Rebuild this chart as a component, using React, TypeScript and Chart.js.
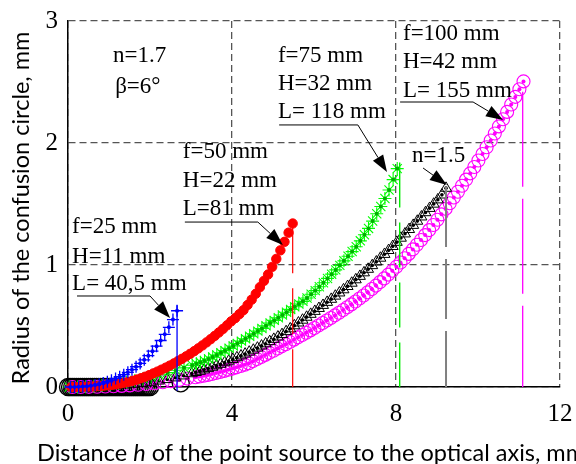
import React, { useEffect, useRef } from "react";
import { Chart, registerables } from "chart.js";
Chart.register(...registerables);

// ---- data ----
const blueX = [0.06,0.16,0.26,0.36,0.46,0.56,0.66,0.76,0.86,0.96,1.06,1.16,1.26,1.36,1.46,1.56,1.66,1.76,1.86,1.96,2.06,2.16,2.26,2.36,2.46,2.56,2.66];
const blueY = [0.000,0.001,0.002,0.004,0.007,0.011,0.016,0.023,0.032,0.043,0.056,0.070,0.085,0.101,0.120,0.142,0.166,0.193,0.223,0.257,0.294,0.335,0.381,0.432,0.489,0.553,0.625];

const redX = [0.08,0.18,0.28,0.38,0.48,0.58,0.68,0.78,0.88,0.98,1.08,1.18,1.28,1.38,1.48,1.58,1.68,1.78,1.88,1.98,2.08,2.18,2.28,2.38,2.48,2.58,2.68,2.78,2.88,2.98,3.08,3.18,3.28,3.38,3.48,3.58,3.68,3.78,3.88,3.98,4.08,4.18,4.28,4.38,4.48,4.58,4.68,4.78,4.88,4.98,5.08,5.18,5.28,5.38,5.48];
const redY = [0.000,0.000,0.001,0.002,0.003,0.004,0.006,0.008,0.011,0.014,0.018,0.023,0.029,0.036,0.043,0.051,0.061,0.072,0.084,0.097,0.111,0.126,0.142,0.158,0.175,0.193,0.212,0.231,0.251,0.272,0.294,0.317,0.341,0.366,0.392,0.419,0.447,0.476,0.506,0.538,0.565,0.597,0.630,0.672,0.716,0.764,0.818,0.870,0.922,0.985,1.050,1.120,1.190,1.265,1.340];

const greenX = [0.03,0.23,0.43,0.63,0.83,1.03,1.23,1.43,1.63,1.83,2.03,2.23,2.43,2.63,2.83,3.03,3.13,3.23,3.33,3.43,3.53,3.63,3.73,3.83,3.93,4.03,4.13,4.23,4.33,4.43,4.53,4.63,4.73,4.83,4.93,5.03,5.13,5.23,5.33,5.43,5.53,5.63,5.73,5.83,5.93,6.03,6.13,6.23,6.33,6.43,6.53,6.63,6.73,6.83,6.93,7.03,7.13,7.23,7.33,7.43,7.53,7.63,7.73,7.83,7.93,8.03];
const greenY = [0.000,0.001,0.003,0.006,0.012,0.020,0.030,0.041,0.054,0.067,0.082,0.100,0.118,0.137,0.157,0.178,0.190,0.202,0.215,0.230,0.245,0.262,0.280,0.298,0.317,0.336,0.356,0.376,0.396,0.416,0.436,0.458,0.480,0.502,0.524,0.546,0.568,0.590,0.613,0.636,0.658,0.680,0.702,0.730,0.760,0.790,0.822,0.855,0.890,0.925,0.960,0.997,1.034,1.072,1.110,1.150,1.198,1.248,1.300,1.360,1.420,1.480,1.545,1.615,1.700,1.790];

const blackX = [0.02,0.22,0.42,0.62,0.82,1.02,1.22,1.42,1.62,1.82,2.02,2.22,2.42,2.62,2.82,3.02,3.12,3.22,3.32,3.42,3.52,3.62,3.72,3.82,3.92,4.02,4.12,4.22,4.32,4.42,4.52,4.62,4.72,4.82,4.92,5.02,5.12,5.22,5.32,5.42,5.52,5.62,5.72,5.82,5.92,6.02,6.12,6.22,6.32,6.42,6.52,6.62,6.72,6.82,6.92,7.02,7.12,7.22,7.32,7.42,7.52,7.62,7.72,7.82,7.92,8.02,8.12,8.22,8.32,8.42,8.52,8.62,8.72,8.82,8.92,9.02,9.12,9.22];
const blackY = [0.000,0.000,0.001,0.003,0.005,0.008,0.012,0.017,0.024,0.031,0.040,0.050,0.062,0.076,0.092,0.110,0.120,0.130,0.141,0.152,0.163,0.175,0.187,0.200,0.213,0.227,0.241,0.256,0.271,0.287,0.303,0.320,0.337,0.355,0.373,0.392,0.411,0.431,0.455,0.478,0.503,0.526,0.549,0.573,0.597,0.621,0.645,0.670,0.695,0.720,0.746,0.772,0.798,0.825,0.852,0.880,0.908,0.937,0.966,0.996,1.026,1.057,1.088,1.120,1.153,1.187,1.221,1.256,1.292,1.326,1.360,1.395,1.430,1.465,1.500,1.535,1.575,1.630];

const magentaX = [0.11,0.31,0.51,0.71,0.91,1.11,1.31,1.51,1.71,1.91,2.11,2.31,2.51,2.71,2.91,3.11,3.21,3.31,3.41,3.51,3.61,3.71,3.81,3.91,4.01,4.11,4.21,4.31,4.41,4.51,4.61,4.71,4.81,4.91,5.01,5.11,5.21,5.31,5.41,5.51,5.61,5.71,5.81,5.91,6.01,6.11,6.21,6.31,6.41,6.51,6.61,6.71,6.81,6.91,7.01,7.11,7.21,7.31,7.41,7.51,7.61,7.71,7.81,7.91,8.01,8.11,8.21,8.31,8.41,8.51,8.61,8.71,8.81,8.91,9.01,9.11,9.21,9.31,9.41,9.51,9.61,9.71,9.81,9.91,10.01,10.11,10.21,10.31,10.41,10.51,10.61,10.71,10.81,10.91,11.01,11.11];
const magentaY = [0.000,0.000,0.001,0.002,0.004,0.006,0.009,0.013,0.018,0.024,0.031,0.039,0.048,0.058,0.069,0.080,0.086,0.092,0.099,0.107,0.115,0.123,0.132,0.141,0.151,0.161,0.172,0.183,0.195,0.212,0.229,0.246,0.263,0.280,0.297,0.315,0.333,0.351,0.369,0.388,0.407,0.426,0.445,0.464,0.484,0.504,0.524,0.545,0.566,0.587,0.609,0.631,0.654,0.677,0.701,0.725,0.750,0.776,0.803,0.831,0.860,0.890,0.921,0.953,0.986,1.020,1.055,1.091,1.128,1.166,1.205,1.245,1.286,1.328,1.371,1.415,1.460,1.506,1.553,1.601,1.650,1.700,1.751,1.803,1.856,1.910,1.965,2.021,2.078,2.136,2.195,2.255,2.316,2.378,2.441,2.505];

const bandX = [0.0,0.05,0.1,0.15,0.2,0.25,0.3,0.35,0.4,0.45,0.5,0.55,0.6,0.65,0.7,0.75,0.8,0.85,0.9,0.95,1.0,1.05,1.1,1.15,1.2,1.25,1.3,1.35,1.4,1.45,1.5,1.55,1.6,1.65,1.7,1.75,1.8,1.85,1.9,1.95,2.0,2.75];
const bandY = [0,0,0,0,0,0,0,0,0,0,0,0,0,0,0,0,0,0,0,0,0,0,0,0,0,0,0,0,0,0,0,0,0,0,0,0,0,0,0,0,0,0.03];

// vertical marker lines: blue, red, green, grey (n=1.5), magenta
const vlineX = [2.66, 5.48, 8.09, 9.22, 11.09];
const vlineTop = [0.67, 1.31, 1.84, 1.64, 2.42];
const vlineBottom = [-0.03, 0, 0, 0, 0];

const xTicks = [0, 4, 8, 12];
const yTicks = [0, 1, 2, 3];

// annotations
const annLines = [
  ["f=25 mm", "H=11 mm", "L= 40,5 mm"],
  ["f=50 mm", "H=22 mm", "L=81 mm"],
  ["f=75 mm", "H=32 mm", "L= 118 mm"],
  ["f=100 mm", "H=42 mm", "L= 155 mm"],
];
const annX = [0.10, 2.80, 5.12, 8.17];
const annBaseY = [
  [1.26, 1.02, 0.795],
  [1.877, 1.639, 1.41],
  [2.664, 2.434, 2.205],
  [2.844, 2.615, 2.377],
];
const leaderX0 = [0.22, 2.85, 5.15, 8.10];
const leaderX1 = [2.0, 4.63, 7.07, 9.88];
const leaderY = [0.746, 1.352, 2.148, 2.336];
const tipX = [2.49, 5.24, 7.78, 10.61];
const tipY = [0.566, 1.164, 1.762, 2.189];

const noteText = ["n=1.7", "\u03b2=6\u00b0", "n=1.5"];
const noteX = [1.10, 1.15, 8.39];
const noteY = [2.664, 2.41, 1.844];
const n15ArrowFrom = [8.66, 1.795];
const n15ArrowTo = [9.24, 1.656];

const yTitle = "Radius of the confusion circle, mm";
const xTitleParts = ["Distance ", "h", " of the point source to the optical axis, mm"];

const SERIF = "'Liberation Serif', 'Times New Roman', serif";
const SANS = "Lato, 'Open Sans', sans-serif";

const pts = (xs: number[], ys: number[]) => xs.map((x, i) => ({ x, y: ys[i] }));

function arrow(ctx: CanvasRenderingContext2D, x0: number, y0: number, x1: number, y1: number) {
  const ang = Math.atan2(y1 - y0, x1 - x0);
  const L = 17, W = 6;
  const bx = x1 - L * Math.cos(ang), by = y1 - L * Math.sin(ang);
  ctx.beginPath();
  ctx.moveTo(x0, y0);
  ctx.lineTo(bx, by);
  ctx.stroke();
  ctx.beginPath();
  ctx.moveTo(x1, y1);
  ctx.lineTo(bx + W * Math.sin(ang), by - W * Math.cos(ang));
  ctx.lineTo(bx - W * Math.sin(ang), by + W * Math.cos(ang));
  ctx.closePath();
  ctx.fill();
}

const annotationPlugin = {
  id: "annot",
  afterDraw(chart: any) {
    const ctx: CanvasRenderingContext2D = chart.ctx;
    const xs = chart.scales.x, ys = chart.scales.y;
    const px = (v: number) => xs.getPixelForValue(v);
    const py = (v: number) => ys.getPixelForValue(v);
    ctx.save();
    ctx.fillStyle = "#000";
    ctx.strokeStyle = "#000";
    ctx.lineWidth = 1;
    ctx.font = `23px ${SERIF}`;
    ctx.textBaseline = "alphabetic";
    ctx.textAlign = "left";
    annLines.forEach((lines, i) => {
      lines.forEach((t, j) => ctx.fillText(t, px(annX[i]), py(annBaseY[i][j])));
      ctx.beginPath();
      ctx.moveTo(px(leaderX0[i]), py(leaderY[i]));
      ctx.lineTo(px(leaderX1[i]), py(leaderY[i]));
      ctx.stroke();
      arrow(ctx, px(leaderX1[i]), py(leaderY[i]), px(tipX[i]), py(tipY[i]));
    });
    noteText.forEach((t, i) => ctx.fillText(t, px(noteX[i]), py(noteY[i])));
    arrow(ctx, px(n15ArrowFrom[0]), py(n15ArrowFrom[1]), px(n15ArrowTo[0]), py(n15ArrowTo[1]));

    // axis titles
    ctx.font = `22px ${SANS}`;
    const w = ctx.measureText(yTitle).width;
    const fs = (22 * 353) / w;
    ctx.font = `${fs}px ${SANS}`;
    ctx.save();
    ctx.translate(21, (chart.chartArea.top + chart.chartArea.bottom) / 2 + 4);
    ctx.rotate(-Math.PI / 2);
    ctx.textAlign = "center";
    ctx.textBaseline = "middle";
    ctx.fillText(yTitle, 0, 0);
    ctx.restore();

    let x = 37;
    const yb = 461;
    ctx.textAlign = "left";
    ctx.textBaseline = "alphabetic";
    xTitleParts.forEach((p, i) => {
      ctx.font = i === 1 ? `italic ${fs}px ${SANS}` : `${fs}px ${SANS}`;
      ctx.fillText(p, x, yb);
      x += ctx.measureText(p).width;
    });
    ctx.restore();
  },
};

export default function App() {
  const ref = useRef<HTMLCanvasElement>(null);
  useEffect(() => {
    document.body.style.margin = "0";
    const canvas = ref.current!;
    const vlineColors = ["#0000ff", "#ff0000", "#00ee00", "#808080", "#ff00ff"];
    const vlineDash = [[], [46, 15], [45, 15], [60, 12], [95, 12]];
    const vlineWidth = [1.3, 1.2, 1.4, 2, 1.3];
    const vlines = vlineX.map((vx, i) => ({
      type: "line" as const,
      data: [{ x: vx, y: vlineTop[i] }, { x: vx, y: vlineBottom[i] }],
      borderColor: vlineColors[i],
      borderWidth: vlineWidth[i],
      borderDash: vlineDash[i],
      pointRadius: 0,
      showLine: true,
      fill: false,
      clip: false as any,
    }));
    const dots = (xs: number[], ys: number[], color: string, r: number) => ({
      type: "scatter" as const,
      data: pts(xs, ys),
      pointStyle: "circle",
      pointRadius: r,
      backgroundColor: color,
      borderColor: color,
      borderWidth: 0,
      clip: false as any,
    });
    const chart = new Chart(canvas, {
      type: "scatter",
      data: {
        datasets: [
          ...vlines,
          dots(blueX, blueY, "#0000ff", 2),
          { data: pts(blueX, blueY), pointStyle: "cross", pointRadius: 6, borderColor: "#0000ff", backgroundColor: "#0000ff", borderWidth: 1.3, clip: false as any },
          { data: pts(redX, redY), pointStyle: "circle", pointRadius: 4.7, borderColor: "#ff0000", backgroundColor: "#ff0000", borderWidth: 1, clip: false as any },
          dots(greenX, greenY, "#00b000", 2),
          { data: pts(greenX, greenY), pointStyle: "star", pointRadius: 6.5, borderColor: "#00ff00", backgroundColor: "#00ff00", borderWidth: 1.1, clip: false as any },
          dots(blackX, blackY, "#000000", 1.8),
          { data: pts(blackX, blackY), pointStyle: "triangle", pointRadius: 6.3, borderColor: "#000000", backgroundColor: "rgba(0,0,0,0)", borderWidth: 1, clip: false as any },
          dots(magentaX, magentaY, "#ff00ff", 2),
          { data: pts(magentaX, magentaY), pointStyle: "circle", pointRadius: 6.5, borderColor: "#ff00ff", backgroundColor: "rgba(0,0,0,0)", borderWidth: 1.1, clip: false as any },
          { data: pts(bandX, bandY), pointStyle: "circle", pointRadius: 8.5, borderColor: "#000000", backgroundColor: "rgba(0,0,0,0)", borderWidth: 1.4, clip: false as any },
        ] as any,
      },
      options: {
        responsive: false,
        animation: false,
        devicePixelRatio: 1,
        events: [],
        layout: { padding: { left: 0, right: 16, top: 21, bottom: 0 } },
        plugins: { legend: { display: false }, tooltip: { enabled: false } },
        scales: {
          x: {
            type: "linear",
            min: xTicks[0],
            max: xTicks[xTicks.length - 1],
            afterFit: (s: any) => { s.height = 77; s.paddingLeft = 0; s.paddingRight = 0; },
            afterBuildTicks: (s: any) => { s.ticks = xTicks.map((v) => ({ value: v })); },
            ticks: { font: { family: SERIF, size: 25 }, color: "#000", padding: 12, maxRotation: 0, autoSkip: false },
            grid: { color: "#555", lineWidth: 1.3, drawTicks: false },
            border: { display: true, color: "#000", width: 1.5, dash: [7, 4] },
          },
          y: {
            type: "linear",
            min: yTicks[0],
            max: yTicks[yTicks.length - 1],
            afterFit: (s: any) => { s.width = 68; s.paddingTop = 0; s.paddingBottom = 0; },
            afterBuildTicks: (s: any) => { s.ticks = yTicks.map((v) => ({ value: v })); },
            ticks: { font: { family: SERIF, size: 25 }, color: "#000", padding: 10, autoSkip: false },
            grid: { color: "#555", lineWidth: 1.3, drawTicks: false },
            border: { display: true, color: "#000", width: 1.5, dash: [7, 4] },
          },
        },
      } as any,
      plugins: [annotationPlugin],
    });
    return () => chart.destroy();
  }, []);
  return (
    <div style={{ width: 576, height: 464 }}>
      <canvas ref={ref} width={576} height={464} style={{ display: "block" }} />
    </div>
  );
}
